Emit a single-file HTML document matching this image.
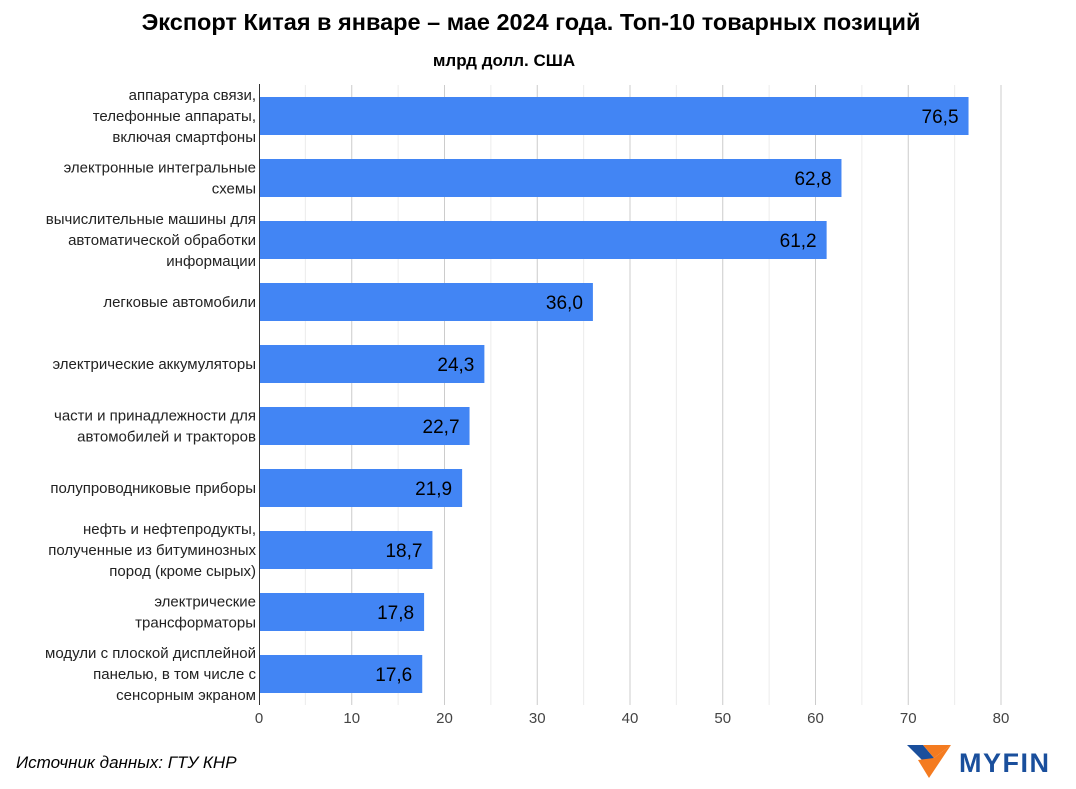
<!DOCTYPE html>
<html><head><meta charset="utf-8"><style>
body{margin:0;background:#fff;font-family:"Liberation Sans",sans-serif;}
svg{display:block}
</style></head><body>
<svg width="1076" height="789" id="c">
<text x="531" y="30" text-anchor="middle" font-size="23.5" font-weight="bold" fill="#000">Экспорт Китая в январе – мае 2024 года. Топ-10 товарных позиций</text>
<text x="504" y="66" text-anchor="middle" font-size="17" font-weight="bold" fill="#000">млрд долл. США</text>
<g id="grid"></g>
<g id="bars"></g>
<g id="labels"></g>
<g id="ticks"></g>
<line x1="259.5" y1="84" x2="259.5" y2="705" stroke="#333" stroke-width="1"/>
<text x="16" y="768" font-size="17" font-style="italic" fill="#000">Источник данных: ГТУ КНР</text>
<g>
<polygon points="907,745 923,745 934,758 929,767" fill="#1a4f9c"/>
<polygon points="934,758 951,745 929,778 918,760" fill="#f47b20"/>
<polygon points="923,745 951,745 934,758" fill="#f47b20"/>
<text x="959" y="772" font-size="27" font-weight="bold" fill="#1a4f9c" letter-spacing="1.5">MYFIN</text>
</g>
</svg>
<script>
const categories=[["аппаратура связи,","телефонные аппараты,","включая смартфоны"],["электронные интегральные","схемы"],["вычислительные машины для","автоматической обработки","информации"],["легковые автомобили"],["электрические аккумуляторы"],["части и принадлежности для","автомобилей и тракторов"],["полупроводниковые приборы"],["нефть и нефтепродукты,","полученные из битуминозных","пород (кроме сырых)"],["электрические","трансформаторы"],["модули с плоской дисплейной","панелью, в том числе с","сенсорным экраном"]];
const values=[76.5,62.8,61.2,36.0,24.3,22.7,21.9,18.7,17.8,17.6];
const tickLabels=[0,10,20,30,40,50,60,70,80];
const NS="http://www.w3.org/2000/svg";
const x0=259,x1=1001,vmax=80,plotTop=85,plotBottom=705;
const band=(plotBottom-plotTop)/categories.length,barH=38;
function xs(v){return x0+v/vmax*(x1-x0);}
function mk(t,a,p){const e=document.createElementNS(NS,t);for(const k in a)e.setAttribute(k,a[k]);p.appendChild(e);return e;}
const grid=document.getElementById('grid'),bars=document.getElementById('bars'),labels=document.getElementById('labels'),ticks=document.getElementById('ticks');
for(let v=5;v<=vmax;v+=5){
 const l=mk('line',{x1:xs(v),x2:xs(v),y1:plotTop,y2:plotBottom,stroke:v%10?'#ececec':'#cccccc','stroke-width':1},grid);
 
 
}
tickLabels.forEach(t=>{
 const e=mk('text',{x:xs(t),y:723,'text-anchor':'middle','font-size':15,fill:'#444'},ticks);
 e.textContent=t;
 
 
});
values.forEach((v,i)=>{
 const cy=plotTop+band*i+band/2;
 const r=mk('rect',{x:x0,y:cy-barH/2,width:xs(v)-x0,height:barH,fill:'#4285f4'},bars);
 
 
 const t=mk('text',{x:xs(v)-10,y:cy+7,'text-anchor':'end','font-size':19,fill:'#000'},bars);
 t.textContent=v.toFixed(1).replace('.',',');
 
 
 const lines=categories[i];
 lines.forEach((s,j)=>{
  const e=mk('text',{x:256,y:cy+5+(j-(lines.length-1)/2)*21,'text-anchor':'end','font-size':15,fill:'#222'},labels);
  e.textContent=s;
  
  
 });
});
</script>
</body></html>
